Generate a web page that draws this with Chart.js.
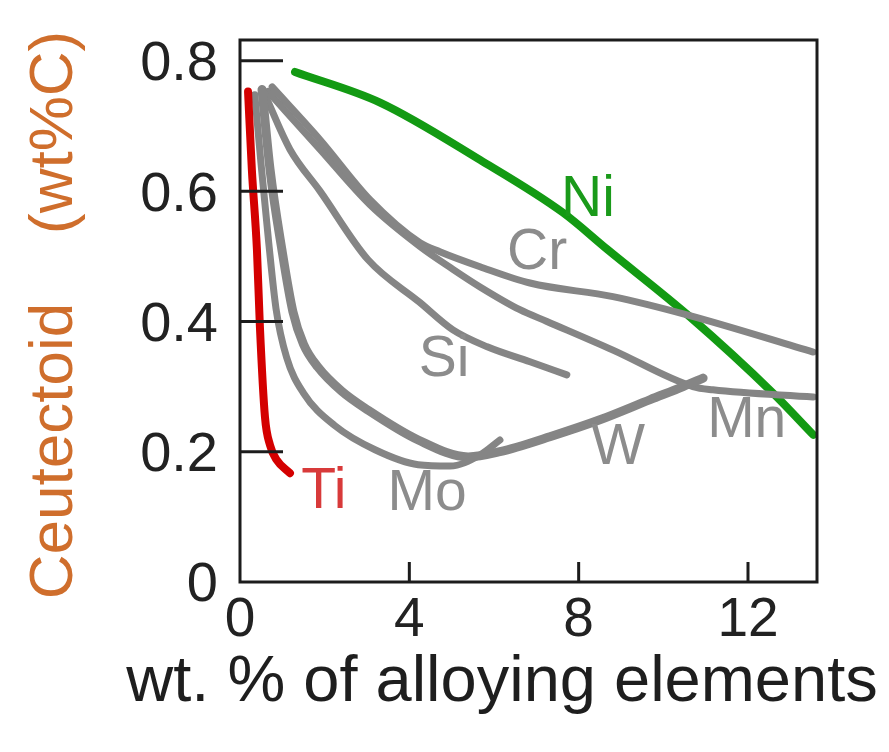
<!DOCTYPE html>
<html>
<head>
<meta charset="utf-8">
<script src="https://cdn.jsdelivr.net/npm/chart.js@4.4.1/dist/chart.umd.min.js"></script>
<style>
  body { margin: 0; background: #fff; }
  canvas { display: block; }
</style>
</head>
<body>
<canvas id="chart" width="889" height="752"></canvas>
<script>
// Ticks
const xTicks = [0, 4, 8, 12];
const yTicks = [0, 0.2, 0.4, 0.6, 0.8];

// Curves (wt.% alloying element -> eutectoid carbon, wt%C)
const tiX = [0.19, 0.28, 0.40, 0.47, 0.59, 0.71, 0.87, 1.18];
const tiY = [0.753, 0.633, 0.510, 0.392, 0.253, 0.210, 0.187, 0.167];

const moX = [0.35, 0.50, 0.68, 0.85, 1.10, 1.50, 2.24, 3.19, 4.21, 4.96, 5.67, 6.14];
const moY = [0.748, 0.640, 0.520, 0.420, 0.345, 0.290, 0.240, 0.203, 0.180, 0.178, 0.195, 0.218];

const wX = [0.52, 0.71, 0.99, 1.25, 1.50, 1.84, 2.40, 3.02, 4.21, 5.39, 6.14, 7.32, 8.50, 9.69, 10.47, 10.94];
const wY = [0.756, 0.633, 0.510, 0.415, 0.365, 0.330, 0.293, 0.264, 0.218, 0.192, 0.200, 0.223, 0.249, 0.280, 0.300, 0.313];

const siX = [0.59, 1.18, 1.89, 3.02, 4.25, 5.03, 5.84, 6.85, 7.72];
const siY = [0.748, 0.664, 0.600, 0.495, 0.429, 0.387, 0.361, 0.338, 0.318];

const crX = [0.76, 1.89, 3.07, 4.25, 4.72, 5.67, 6.85, 8.81, 10.56, 13.54];
const crY = [0.760, 0.679, 0.587, 0.521, 0.507, 0.484, 0.459, 0.438, 0.410, 0.353];

const mnX = [0.66, 1.89, 3.07, 4.25, 5.03, 5.67, 6.61, 7.25, 8.81, 10.70, 11.17, 13.54];
const mnY = [0.753, 0.664, 0.579, 0.515, 0.480, 0.453, 0.418, 0.400, 0.356, 0.300, 0.295, 0.284];

const niX = [1.30, 3.31, 5.67, 7.63, 8.67, 10.63, 12.59, 13.54];
const niY = [0.783, 0.736, 0.648, 0.567, 0.511, 0.407, 0.290, 0.226];

// Curve labels and where they sit (data units)
const labelNames = ['Ti', 'Mo', 'W', 'Si', 'Cr', 'Mn', 'Ni'];
const labelX = [1.98, 4.42, 8.93, 4.82, 7.02, 11.97, 8.22];
const labelY = [0.138, 0.135, 0.206, 0.341, 0.504, 0.246, 0.586];

const xTitle = 'wt. % of alloying elements';
const yTitle = 'Ceutectoid    (wt%C)';

const GRAY = '#858585';
const GREEN = '#139a13';
const RED = '#d40000';
const labelColors = {Ti: '#d83a3a', Ni: '#1a9a1a'};
const FONT = '"Liberation Sans", Arial, sans-serif';

function zip(xs, ys) {
    return xs.map((x, i) => ({x: x, y: ys[i]}));
}

function curve(label, xs, ys, color, width) {
    return {
        label: label,
        data: zip(xs, ys),
        borderColor: color,
        backgroundColor: color,
        borderWidth: width,
        pointRadius: 0,
        cubicInterpolationMode: 'monotone',
        borderCapStyle: 'round',
        borderJoinStyle: 'round',
        fill: false
    };
}

// frame + inward tick marks
const framePlugin = {
    id: 'frame',
    afterDatasetsDraw(chart) {
        const ctx = chart.ctx;
        const a = chart.chartArea;
        const xs = chart.scales.x, ys = chart.scales.y;
        ctx.save();
        ctx.strokeStyle = '#1c1c1c';
        ctx.lineWidth = 3;
        ctx.strokeRect(a.left, a.top, a.right - a.left, a.bottom - a.top);
        ctx.beginPath();
        yTicks.slice(1).forEach(v => {
            const py = ys.getPixelForValue(v);
            ctx.moveTo(a.left, py);
            ctx.lineTo(a.left + 43, py);
        });
        xTicks.slice(1).forEach(v => {
            const px = xs.getPixelForValue(v);
            ctx.moveTo(px, a.bottom);
            ctx.lineTo(px, a.bottom - 20);
        });
        ctx.stroke();
        ctx.restore();
    }
};

// curve names + axis titles (drawn by hand so they are not squeezed to the axis length)
const labelPlugin = {
    id: 'curveLabels',
    afterDatasetsDraw(chart) {
        const ctx = chart.ctx;
        const xs = chart.scales.x, ys = chart.scales.y;
        ctx.save();
        ctx.font = '57px ' + FONT;
        ctx.textAlign = 'center';
        ctx.textBaseline = 'middle';
        labelNames.forEach((name, i) => {
            ctx.fillStyle = labelColors[name] || '#8c8c8c';
            ctx.fillText(name, xs.getPixelForValue(labelX[i]), ys.getPixelForValue(labelY[i]));
        });

        ctx.font = '65px ' + FONT;
        ctx.fillStyle = '#1e1e1e';
        ctx.textBaseline = 'alphabetic';
        ctx.fillText(xTitle, 502, 701);

        ctx.translate(72, 315);
        ctx.rotate(-Math.PI / 2);
        ctx.font = '62px ' + FONT;
        ctx.fillStyle = '#cf6e2c';
        ctx.fillText(yTitle, 0, 0);
        ctx.restore();
    }
};

const ctx = document.getElementById('chart').getContext('2d');
new Chart(ctx, {
    type: 'line',
    data: {
        datasets: [
            curve('Ti', tiX, tiY, RED, 8),
            curve('Mo', moX, moY, GRAY, 7),
            curve('W', wX, wY, GRAY, 9),
            curve('Si', siX, siY, GRAY, 7),
            curve('Cr', crX, crY, GRAY, 7),
            curve('Mn', mnX, mnY, GRAY, 7),
            curve('Ni', niX, niY, GREEN, 8)
        ]
    },
    options: {
        responsive: false,
        animation: false,
        layout: { padding: { left: 0, top: 40, right: 72, bottom: 0 } },
        plugins: {
            legend: { display: false },
            tooltip: { enabled: false }
        },
        scales: {
            x: {
                type: 'linear',
                min: 0,
                max: 13.63,
                afterBuildTicks: scale => { scale.ticks = xTicks.map(v => ({value: v})); },
                afterFit: scale => {
                    scale.height = 170;
                    scale.paddingLeft = 0;
                    scale.paddingRight = 0;
                },
                grid: { display: false, drawTicks: false },
                border: { display: false },
                ticks: {
                    padding: 6,
                    color: '#222',
                    font: { family: FONT, size: 55 }
                }
            },
            y: {
                type: 'linear',
                min: 0,
                max: 0.832,
                afterBuildTicks: scale => { scale.ticks = yTicks.map(v => ({value: v})); },
                afterFit: scale => {
                    scale.width = 240;
                    scale.paddingTop = 0;
                    scale.paddingBottom = 0;
                },
                grid: { display: false, drawTicks: false },
                border: { display: false },
                ticks: {
                    padding: 22,
                    labelOffset: 4,
                    color: '#222',
                    font: { family: FONT, size: 56 },
                    callback: v => String(v)
                }
            }
        }
    },
    plugins: [framePlugin, labelPlugin]
});
</script>
</body>
</html>
